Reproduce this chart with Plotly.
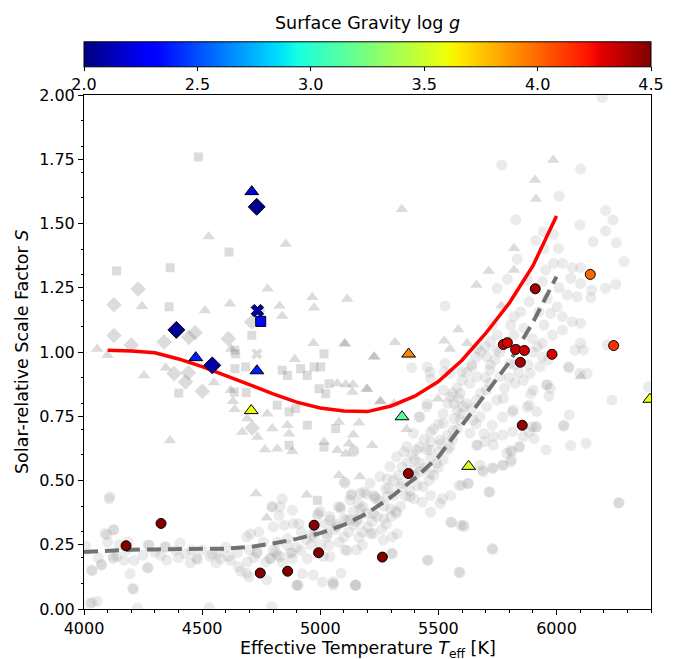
import numpy as np
import plotly.graph_objects as go

# ---------------- data ----------------
# gray background sample: circles
gc_T = [4106,4096,4127,4007,4124,4073,4035,4195,4169,4212,4268,4209,4275,4346,4388,4430,4480,4543,4578,4621,4663,4698,4705,4691,4734,4769,4797,4790,4035,4056,4226,4141,4325,4530,
        4839,4882,4825,4847,4910,4861,4917,4818,4882,4945,4924,4903,5009,5055,5150,5002,5037,5087,5101,5143,5171,5164,5178,5114,5213,5270,5235,5277,5312,5298,5305,5326,5305,5453,5284,5347,5397,5411,5397,5432,5467,5467,5517,5552,5552,5587,5594,5587,5467,5503,5467,5510,5538,5467,5566,5580,5566,5587,5453,5418,5355,5143,5101,5129,5185,5227,4988,4974,5065,5030,4811,5467,5524,5453,
        5387,5465,5528,5641,5662,5704,5718,5747,5761,5803,5824,5775,5817,5888,5930,5958,5973,5902,5885,5916,5895,5916,5845,5810,5810,5775,5733,5690,5718,5676,5662,5697,5733,5733,5772,5814,5860,5956,6054,6060,6125,6234,6265,6029,5730,5457,5592,5606,5556,5507,5627,5599,5789,6389,6078,6113,6050,6099,6130,5965,5055,5151,5088,5041,5105,5154,5303,5267,
        6032,5905,5912,5884,5841,5806,5806,5771,5728,5686,5625,5714,5728,6262,5961,5968,6053,5891,5876,5813,5771,5728,5693,5665,5608,
        6194,5768,6102,6011,5827,6208,6239,6099,6208,5944,5987,5912,6155,6253,5947,6008,5834,6286,5987,6025,6067,6102,5954,5792,5876,5940,6060,6102,6251,5748,6011,6208,6149,6046,6145,5961,6088,6003,5884,5849,5926,5975,6025,6067,6102,5820,5806,5862,5947,5983,6025,5897,5940,5820,5728,5749,5792,6102,6215,5665,5528,
        5140,5105,5133,5196,5231,5161,5076,5112,5154,5196,5225,5070,5027,5041,4992,4964,5013,4907,4971,5055,5147,4886,4830,4795,4801,4830,4872,4787,4731,4689,4689,4653,4611,4569,4533,4477,4456,4406,4343,4272,4124,4075,4032,4110,4089,4124,4187,4206,4272,4900,4773,4795,4025,
        5718,5747,5704,5662,5606,5592,5563,5521,5507,5465,5549,5634,5648,5676,5704,5634,5592,5549,5521,5549,5599,5451,5422,5394,5366,5408,5323,5295,5253,5211,5168,5126,5084,5182,5281,5338,5380,5436,5465,5493,5422,5225,5126,5323,
        5250,5270,5290,5310,5330,5350,5370,5390,5400,5420,5440,5450,5480,5500,5520,5540,5560,5580,5600,5620,5640,5660,5680,5700,5720,5680,5700,5720,5740,5760,5780,5800,5820,5840,5860,5880,5900,5920,5940,
        5660,5640,5620,5600,5580,5560,5540,5520,5500,5480,5460,5440,5420,5400,5380,5360,5340,5320,5300,5280,5260,5240,5220,5200,5180,5160,5140,5120,5100,5080,5060,5040,5020,5000,4980,4960,4940,4920,4900,4880,4860,4840,4820,4800,4760,4740,4720,4700,4650,4600,4560,4500,4450,4400,4350,4300,4250,4180,4150,4100,4060]
gc_S = [0.429,0.289,0.309,0.245,0.196,0.174,0.148,0.137,0.189,0.189,0.160,0.077,0.248,0.241,0.228,0.215,0.193,0.215,0.196,0.189,0.147,0.125,0.293,0.183,0.222,0.183,0.397,0.196,0.025,0.030,0.004,0.206,0.209,0.006,
        0.429,0.384,0.364,0.326,0.332,0.274,0.228,0.209,0.196,0.196,0.137,0.092,0.105,0.099,0.092,0.248,0.248,0.390,0.351,0.326,0.390,0.280,0.248,0.228,0.293,0.351,0.429,0.468,0.442,0.390,0.280,0.293,0.215,0.189,0.507,0.553,0.540,0.481,0.429,0.416,0.442,0.377,0.429,0.442,0.339,0.481,0.326,0.144,0.585,0.611,0.650,0.643,0.676,0.689,0.741,0.773,0.799,0.818,0.799,0.747,0.611,0.618,0.494,0.442,0.455,0.442,0.364,0.280,0.332,0.293,0.222,0.896,0.922,0.942,
        0.939,0.921,0.956,0.943,0.904,0.982,0.930,1.008,0.904,0.956,0.878,0.820,0.774,0.917,0.943,0.872,0.859,0.852,0.794,0.768,0.709,0.709,0.632,0.612,0.580,0.560,0.547,0.534,0.456,0.560,0.638,0.651,0.671,0.638,0.677,0.690,0.671,0.619,0.755,0.636,0.645,0.813,0.414,0.712,0.232,0.191,0.141,0.320,0.336,0.411,0.489,0.482,0.606,0.865,1.008,1.008,0.943,0.917,0.917,0.969,0.093,0.093,0.139,0.204,0.230,0.230,0.217,0.268,
        0.715,0.663,0.708,0.689,0.630,0.617,0.572,0.559,0.550,0.540,0.488,0.455,0.235,0.412,0.873,0.828,0.938,0.838,0.786,0.767,0.747,0.715,0.682,0.637,0.326,
        1.990,1.728,1.712,1.606,1.515,1.551,1.514,1.494,1.471,1.468,1.458,1.433,1.429,1.425,1.401,1.403,1.361,1.352,1.345,1.345,1.328,1.328,1.319,1.283,1.280,1.274,1.287,1.267,1.263,1.248,1.250,1.248,1.241,1.222,1.211,1.209,1.215,1.176,1.196,1.157,1.157,1.150,1.138,1.118,1.112,1.138,1.105,1.092,1.105,1.066,1.086,1.053,1.034,1.066,1.105,1.066,1.040,1.034,1.027,1.014,1.179,
        0.612,0.489,0.447,0.447,0.437,0.411,0.398,0.346,0.340,0.372,0.294,0.320,0.281,0.346,0.372,0.288,0.204,0.093,0.132,0.106,0.093,0.333,0.398,0.398,0.320,0.204,0.217,0.197,0.217,0.281,0.139,0.165,0.204,0.217,0.204,0.197,0.230,0.256,0.243,0.249,0.204,0.171,0.152,0.437,0.294,0.307,0.262,0.080,0.161,0.093,0.113,0.009,0.022,
        0.878,0.813,0.787,0.813,0.787,0.735,0.696,0.722,0.658,0.619,0.632,0.684,0.735,0.748,0.852,0.878,0.839,0.826,0.852,0.917,0.924,0.787,0.748,0.684,0.632,0.619,0.593,0.554,0.515,0.489,0.450,0.424,0.398,0.398,0.437,0.476,0.437,0.476,0.528,0.567,0.534,0.372,0.346,0.372,
        0.42,0.40,0.47,0.50,0.52,0.49,0.57,0.60,0.58,0.63,0.66,0.62,0.70,0.72,0.76,0.80,0.84,0.86,0.89,0.92,0.95,0.98,1.00,1.02,1.04,0.84,0.90,0.95,0.97,1.00,0.86,0.90,0.95,0.92,0.89,0.95,1.00,1.02,0.98,
        0.72,0.78,0.80,0.76,0.70,0.66,0.62,0.58,0.55,0.52,0.50,0.55,0.57,0.52,0.46,0.44,0.40,0.38,0.36,0.33,0.31,0.36,0.34,0.32,0.30,0.35,0.38,0.30,0.28,0.26,0.31,0.36,0.33,0.38,0.30,0.25,0.27,0.30,0.24,0.22,0.25,0.18,0.26,0.23,0.26,0.30,0.20,0.23,0.22,0.24,0.18,0.23,0.18,0.20,0.19,0.22,0.21,0.23,0.25,0.26,0.20]

# gray triangles
gt_T = [4528,4777,4245,4512,4618,4056,4623,5345,4854,4966,5114,4828,4974,4839,5584,4971,5103,5316,5525,5549,5986,5909,5913,5820,5713,5820,5661,5767,5622,6102,
        4099,4254,4346,4550,4621,4631,4638,4691,4670,4734,4766,4776,4364,4728,4773,4797,
        4892,5227,5072,5108,5139,5197,5136,5256,5312,5498,4861,4868,4818,4882,5016,5072,5108,5079,5164,5140,5122,5220,5366,5079,5168,4943,5105,5229,5199,5253]
gt_S = [1.449,1.246,1.178,1.161,1.188,1.012,1.012,1.555,1.420,1.213,1.206,1.179,1.172,1.140,1.088,1.034,1.034,1.038,1.044,1.012,1.747,1.669,1.595,1.404,1.315,1.319,1.261,1.180,1.034,0.905,
        0.987,0.909,0.939,0.881,0.851,0.808,0.777,0.741,0.689,0.669,0.621,0.760,0.656,0.449,0.355,0.702,
        0.972,0.982,0.877,0.874,0.874,0.857,0.844,0.808,0.799,0.818,0.715,0.682,0.624,0.614,0.650,0.618,0.604,0.728,0.725,0.678,0.643,0.637,0.699,0.520,0.516,0.445,1.031,0.982,0.855,0.807]

# gray squares
gs_T = [4484,4614,4138,4365,4360,4710,4638,4401,4642,4639,4636,4684,4687,4839,4861,4917,4945,4974,5002,4995,5023,5037,4818,4868,4896,4945,5065,4868,5016,4988,5016]
gs_S = [1.759,1.389,1.316,1.328,1.176,1.065,1.007,0.840,0.993,0.935,0.844,0.942,0.842,0.929,0.909,0.935,0.909,0.942,0.942,0.857,0.838,0.877,0.793,0.767,0.780,0.715,0.702,0.637,0.630,0.423,0.993]

# gray diamonds
gd_T = [4229,4127,4127,4200,4339,4444,4470,4611,4710,4381,4430,4442,4501,4712]
gd_S = [1.245,1.184,1.064,1.027,1.039,1.057,1.075,1.052,1.117,0.916,0.883,0.919,0.847,0.704]

# gray crosses
gx_T = [4732, 4745]
gx_S = [0.993, 1.150]

# highlighted stars (colour = surface gravity)
hl_symbol = ['triangle-up','diamond','x','square','diamond','triangle-up','diamond','triangle-up','triangle-up',
             'triangle-up','triangle-up','triangle-up','triangle-up',
             'circle','circle','circle','circle','circle','circle','circle','circle','circle','circle',
             'circle','circle','circle','circle','circle','circle','circle','circle']
hl_T = [4710,4731,4734,4748,4391,4473,4543,4732,4708,
        5374,5346,5628,6395,
        4178,4326,4746,4862,4974,4993,5373,5263,5775,5792,
        5827,5864,5847,5981,6242,5855,6143,5910]
hl_S = [1.624,1.565,1.161,1.119,1.086,0.978,0.948,0.927,0.772,
        0.992,0.748,0.555,0.816,
        0.246,0.333,0.140,0.147,0.326,0.219,0.527,0.202,1.029,1.036,
        1.010,1.006,0.960,0.991,1.025,0.715,1.302,1.246]
hl_logg = [2.20,2.03,2.10,2.33,2.05,2.38,2.08,2.38,3.60,
           3.92,3.15,3.52,3.60,
           4.50,4.50,4.50,4.50,4.48,4.50,4.48,4.50,4.35,4.30,
           4.35,4.33,4.42,4.30,4.15,4.45,4.00,4.42]

# model curves
red_T = [4100,4200,4300,4400,4500,4600,4700,4800,4900,5000,5100,5200,5300,5400,5500,5600,5700,5800,5900,6000]
red_S = [1.007,1.004,0.997,0.973,0.943,0.909,0.873,0.837,0.805,0.782,0.770,0.768,0.790,0.828,0.885,0.968,1.072,1.190,1.335,1.529]
dash_T = [4000,4100,4200,4300,4400,4500,4600,4700,4800,4900,5000,5100,5200,5300,5400,5500,5600,5700,5800,5900,6000]
dash_S = [0.222,0.228,0.231,0.232,0.232,0.232,0.235,0.241,0.255,0.273,0.295,0.327,0.373,0.436,0.508,0.592,0.715,0.832,0.960,1.115,1.293]

x_ticks = [4000, 4500, 5000, 5500, 6000]
y_ticks = [0.00, 0.25, 0.50, 0.75, 1.00, 1.25, 1.50, 1.75, 2.00]
cb_ticks = [2.0, 2.5, 3.0, 3.5, 4.0, 4.5]

# ---------------- matplotlib-like jet colorscale ----------------
def jet(v):
    r = np.interp(v, [0, 0.35, 0.66, 0.89, 1], [0, 0, 1, 1, 0.5])
    g = np.interp(v, [0, 0.125, 0.375, 0.64, 0.91, 1], [0, 0, 1, 1, 0, 0])
    b = np.interp(v, [0, 0.11, 0.34, 0.65, 1], [0.5, 1, 1, 0, 0])
    return 'rgb(%d,%d,%d)' % (round(r*255), round(g*255), round(b*255))

stops = sorted(set(list(np.round(np.linspace(0, 1, 41), 4)) + [0.11, 0.125, 0.34, 0.35, 0.375, 0.64, 0.65, 0.66, 0.89, 0.91]))
jet_scale = [[float(s), jet(s)] for s in stops]

size_by_symbol = {'circle': 10, 'triangle-up': 12, 'diamond': 13, 'square': 10, 'x': 11}
hl_size = [size_by_symbol[s] for s in hl_symbol]

FONT = "DejaVu Sans"
fig = go.Figure()

gray_alpha_c = 'rgba(128,128,128,0.16)'
gray_alpha_o = 'rgba(128,128,128,0.28)'
fig.add_trace(go.Scatter(x=gc_T, y=gc_S, mode='markers', hoverinfo='skip',
                         marker=dict(symbol='circle', size=11, color=gray_alpha_c, line=dict(width=0))))
fig.add_trace(go.Scatter(x=gt_T, y=gt_S, mode='markers', hoverinfo='skip',
                         marker=dict(symbol='triangle-up', size=11, color=gray_alpha_o, line=dict(width=0))))
fig.add_trace(go.Scatter(x=gs_T, y=gs_S, mode='markers', hoverinfo='skip',
                         marker=dict(symbol='square', size=9, color=gray_alpha_o, line=dict(width=0))))
fig.add_trace(go.Scatter(x=gd_T, y=gd_S, mode='markers', hoverinfo='skip',
                         marker=dict(symbol='diamond', size=12, color=gray_alpha_o, line=dict(width=0))))
fig.add_trace(go.Scatter(x=gx_T, y=gx_S, mode='markers', hoverinfo='skip',
                         marker=dict(symbol='x', size=10, color=gray_alpha_o, line=dict(width=0))))

fig.add_trace(go.Scatter(x=dash_T, y=dash_S, mode='lines',
                         line=dict(color='rgba(100,100,100,0.9)', width=4, dash='14px,7px')))
fig.add_trace(go.Scatter(x=red_T, y=red_S, mode='lines',
                         line=dict(color='rgb(255,0,0)', width=3.5)))

fig.add_trace(go.Scatter(
    x=hl_T, y=hl_S, mode='markers',
    marker=dict(symbol=hl_symbol, size=hl_size, opacity=1, color=hl_logg, cmin=2.0, cmax=4.5,
                colorscale=jet_scale, line=dict(color='black', width=1),
                showscale=True,
                colorbar=dict(orientation='h', x=0.5, xanchor='center', y=1.0, yanchor='bottom',
                              len=1.0, lenmode='fraction', thickness=25, xpad=0, ypad=0,
                              outlinecolor='black', outlinewidth=1,
                              tickvals=cb_ticks, ticktext=['%.1f' % t for t in cb_ticks],
                              ticks='outside', ticklen=4, tickcolor='black',
                              tickfont=dict(family=FONT, size=16, color='black'),
                              title=dict(text='Surface Gravity log <i>g</i>', side='top',
                                         font=dict(family=FONT, size=17.5, color='black'))))))

axis_common = dict(showline=True, linecolor='black', linewidth=1, mirror=True,
                   ticks='outside', ticklen=5, tickcolor='black', showgrid=False, zeroline=False,
                   tickfont=dict(family=FONT, size=16, color='black'))

fig.update_layout(
    width=679, height=659,
    margin=dict(l=84, r=28, t=95, b=50, autoexpand=False),
    paper_bgcolor='white', plot_bgcolor='white',
    showlegend=False,
    font=dict(family=FONT, color='black'),
    xaxis=dict(range=[4000, 6400], tickvals=x_ticks, ticktext=[str(t) for t in x_ticks],
               minor=dict(dtick=100, tick0=4000, ticks='outside', ticklen=2.5, tickcolor='black'),
               automargin=False, **axis_common),
    yaxis=dict(range=[0, 2], tickvals=y_ticks, ticktext=['%.2f' % t for t in y_ticks],
               minor=dict(dtick=0.1, tick0=0, ticks='outside', ticklen=2.5, tickcolor='black'),
               automargin=False, **axis_common),
    annotations=[
        dict(text='Solar-relative Scale Factor <i>S</i>', textangle=-90,
             xref='paper', yref='paper', x=(22 - 84) / 567, y=0.5,
             xanchor='center', yanchor='middle', showarrow=False,
             font=dict(family=FONT, size=17.5, color='black')),
        dict(text='Effective Temperature <i>T</i><sub>eff</sub> [K]',
             xref='paper', yref='paper', x=0.5, y=-(637 - 609) / 514,
             xanchor='center', yanchor='top', showarrow=False, borderpad=0,
             font=dict(family=FONT, size=17.5, color='black')),
    ],
)

fig.write_html("out.html", config={'displayModeBar': False},
               post_script="document.body.style.margin='0px';")
